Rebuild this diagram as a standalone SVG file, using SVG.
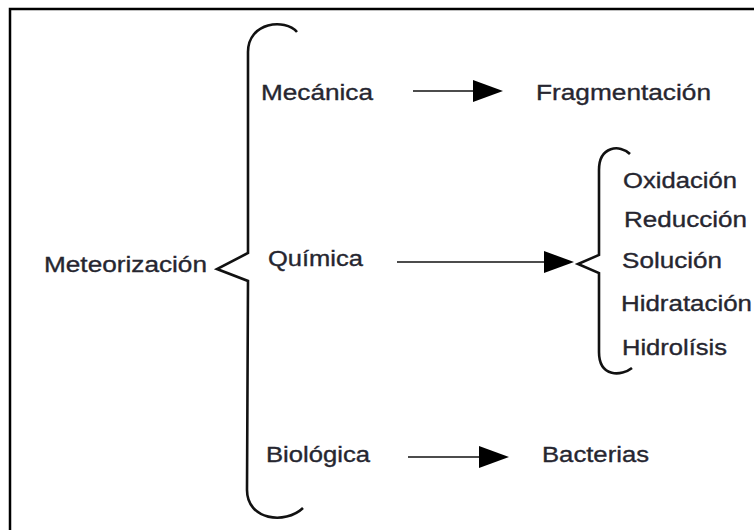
<svg xmlns="http://www.w3.org/2000/svg" width="754" height="530" viewBox="0 0 754 530">
<style>
text{font-family:"Liberation Sans",Arial,sans-serif;font-size:22.5px;fill:#262630;stroke:#262630;stroke-width:0.35;}
.br{fill:none;stroke:#111;stroke-width:2.6;stroke-linejoin:miter;}
.ar{fill:none;stroke:#111;stroke-width:1.6;}
</style>
<defs>
<marker id="ah" markerUnits="userSpaceOnUse" markerWidth="32" markerHeight="24" refX="0" refY="12" orient="auto" overflow="visible">
<path d="M0,1 L30,12 L0,23 Z" fill="#000"/>
</marker>
</defs>
<rect x="10" y="9" width="800" height="600" fill="#fff" stroke="#000" stroke-width="2.5"/>
<g id="brackets">
<path class="br" d="M297,32 C285,18 248,22 248,52 L248,253 L217,269 L248,281 L247,490 C247,520 285,525 303,508"/>
<path class="br" d="M630,154 C620,144 599,146 599,170 L599,255 L578,264 L599,273 L599,352 C599,378 622,376 632,368"/>
</g>
<g id="connectors">
<line class="ar" x1="413" y1="91" x2="473" y2="91" marker-end="url(#ah)"/>
<line class="ar" x1="397" y1="262" x2="544" y2="262" marker-end="url(#ah)"/>
<line class="ar" x1="408" y1="457" x2="479" y2="457" marker-end="url(#ah)"/>
</g>
<g id="meteorizacion"><text x="44" y="272" textLength="163" lengthAdjust="spacingAndGlyphs">Meteorización</text></g>
<g id="mecanica"><text x="261" y="100" textLength="112" lengthAdjust="spacingAndGlyphs">Mecánica</text></g>
<g id="fragmentacion"><text x="536" y="100" textLength="175" lengthAdjust="spacingAndGlyphs">Fragmentación</text></g>
<g id="quimica"><text x="268" y="266" textLength="95" lengthAdjust="spacingAndGlyphs">Química</text></g>
<g id="biologica"><text x="266" y="462" textLength="104" lengthAdjust="spacingAndGlyphs">Biológica</text></g>
<g id="bacterias"><text x="542" y="462" textLength="107" lengthAdjust="spacingAndGlyphs">Bacterias</text></g>
<g id="oxidacion"><text x="623" y="188" textLength="114" lengthAdjust="spacingAndGlyphs">Oxidación</text></g>
<g id="reduccion"><text x="624" y="227" textLength="123" lengthAdjust="spacingAndGlyphs">Reducción</text></g>
<g id="solucion"><text x="622" y="268" textLength="100" lengthAdjust="spacingAndGlyphs">Solución</text></g>
<g id="hidratacion"><text x="621" y="311" textLength="131" lengthAdjust="spacingAndGlyphs">Hidratación</text></g>
<g id="hidrolisis"><text x="622" y="355" textLength="105" lengthAdjust="spacingAndGlyphs">Hidrolísis</text></g>
</svg>
